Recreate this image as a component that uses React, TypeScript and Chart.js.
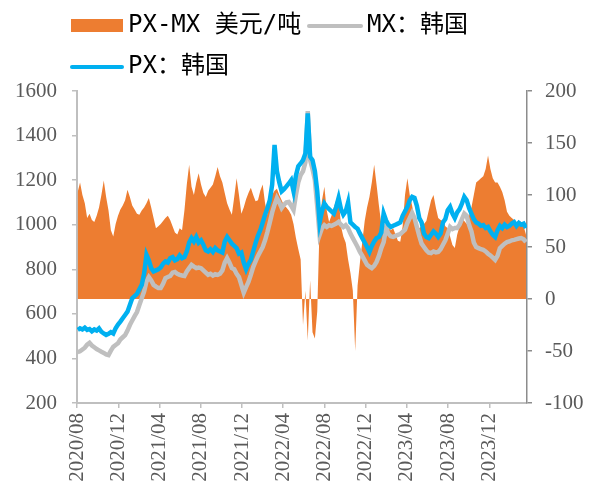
import React, { useEffect, useRef } from 'react';
import { Chart, registerables } from 'chart.js';

Chart.register(...registerables);

// ---- data (weekly observations, first one on START_DATE) ----
const AXIS_START = '2020-08-01';
const START_DATE = '2020-08-03';
const STEP_DAYS = 7;

const xTickLabels = ['2020/08', '2020/12', '2021/04', '2021/08', '2021/12', '2022/04', '2022/08', '2022/12', '2023/04', '2023/08', '2023/12'];
const leftTicks = [200, 400, 600, 800, 1000, 1200, 1400, 1600];
const rightTicks = [-100, -50, 0, 50, 100, 150, 200];

const seriesLabels = ['PX-MX 美元/吨', 'MX：韩国', 'PX：韩国'];

const pxKorea = [
  528, 535, 530, 538, 528, 532, 522, 530, 525, 535,
  520, 512, 505, 510, 518, 512, 535, 552, 565, 580,
  595, 610, 640, 670, 680, 690, 710, 730, 780, 865,
  840, 805, 790, 795, 800, 808, 825, 835, 830, 850,
  855, 840, 845, 862, 850, 855, 880, 920, 940, 925,
  945, 920, 930, 910, 885, 880, 890, 878, 895, 885,
  880, 875, 925, 945, 930, 915, 905, 895, 870, 875,
  830, 800, 825, 842, 880, 918, 950, 976, 1010, 1045,
  1075, 1110, 1180, 1358, 1240, 1190, 1150, 1160, 1172, 1185,
  1200, 1150, 1220, 1262, 1275, 1290, 1320, 1500, 1305, 1290,
  1240, 1150, 1010, 1060, 1095, 1080, 1070, 1060, 1050, 1080,
  1120, 1070, 1045, 1060, 1100, 1010, 1000, 990, 982, 960,
  940, 920, 900, 878, 905, 925, 940, 945, 965, 1050,
  1020, 1000, 990, 995, 1000, 1005, 1010, 1040, 1060, 1080,
  1110, 1125, 1120, 1085, 1030, 1010, 960, 945, 940, 955,
  970, 960, 945, 960, 1010, 1025, 1065, 1080, 1050, 1030,
  1055, 1070, 1095, 1125, 1110, 1075, 1050, 1025, 1010, 1005,
  995, 998, 985, 990, 970, 955, 945, 975, 995, 985,
  1000, 990, 995, 1005, 1012, 995, 1008, 1000, 1005, 985,
];

const mxKorea = [
  429, 432, 440, 448, 462, 470, 458, 450, 442, 436,
  430, 425, 418, 415, 435, 452, 460, 468, 485, 495,
  505, 525, 550, 570, 590, 608, 640, 670, 700, 745,
  765, 750, 730, 722, 716, 716, 735, 760, 765, 770,
  785, 788, 780, 775, 772, 770, 790, 805, 820, 812,
  805, 808, 805, 795, 785, 775, 780, 772, 778, 775,
  780, 795, 830, 850, 830, 805, 800, 780, 765, 730,
  695, 720, 743, 775, 810, 835, 860, 880, 900, 930,
  968, 1010, 1055, 1090, 1120, 1100, 1075, 1090, 1100, 1102,
  1085, 1066, 1133, 1190, 1223, 1240, 1280, 1510, 1290, 1250,
  1200, 1080, 954, 985, 998, 990, 998, 995, 1000, 1005,
  1013, 1000, 990, 998, 985, 960, 940, 920, 900, 878,
  860, 840, 820, 812, 805, 815, 833, 860, 895, 922,
  985, 960, 948, 945, 950, 954, 958, 968, 978, 1008,
  1030, 1053, 1030, 990, 950, 915, 900, 885, 875, 873,
  880, 876, 878, 890, 910, 930, 960, 990, 980, 985,
  985, 1000, 1025, 1050, 1040, 1000, 970, 920, 900, 895,
  890, 887, 880, 870, 862, 852, 842, 860, 895, 905,
  915, 922, 925, 930, 932, 935, 938, 940, 935, 922,
];

const spreadPxMx = [
  103, 112, 100, 92, 78, 82, 76, 74, 80, 88,
  100, 114, 98, 85, 66, 60, 72, 80, 86, 90,
  95, 105, 98, 90, 86, 82, 81, 85, 88, 92,
  97, 88, 78, 68, 70, 72, 75, 78, 80, 76,
  70, 64, 62, 68, 66, 85, 110, 129, 108, 100,
  112, 121, 110, 102, 98, 104, 107, 110, 118, 127,
  118, 112, 102, 92, 86, 81, 98, 116, 100, 82,
  88, 96, 102, 107, 100, 94, 95, 104, 110, 92,
  81, 92, 100, 104, 106, 100, 95, 90, 88, 85,
  81, 72, 59, 48, 38, -25, 8, -40, 18, -32,
  -38, -12, 72, 95, 108, 85, 74, 80, 88, 95,
  100, 70, 60, 54, 38, 25, 8, -50, 13, 35,
  55, 75, 88, 98, 112, 129, 110, 90, 72, 59,
  64, 68, 66, 68, 62, 56, 55, 70, 100, 116,
  100, 90, 76, 72, 68, 70, 72, 75, 85, 95,
  100, 88, 78, 76, 75, 70, 68, 60, 52, 49,
  62, 70, 78, 75, 72, 80, 88, 100, 112, 114,
  116, 118, 125, 138, 125, 116, 112, 112, 108, 103,
  95, 84, 80, 78, 76, 74, 75, 74, 70, 62,
];

// ---- styling ----
const ORANGE = '#ED7D31';
const GRAY = '#BFBFBF';
const BLUE = '#00B0F0';
const TICK_COLOR = '#595959';
const W = 593;
const H = 497;

const DAY = 86400000;
const dayOffset = (iso: string) => (Date.parse(iso + 'T00:00:00Z') - Date.parse(AXIS_START + 'T00:00:00Z')) / DAY;
const firstDay = dayOffset(START_DATE);
const toPoints = (arr: number[]) => arr.map((v, i) => ({ x: firstDay + i * STEP_DAYS, y: v }));
const xTickValues = xTickLabels.map((l) => dayOffset(l.replace('/', '-') + '-01'));
const xMax = dayOffset('2024-03-21');

const legendPlugin = {
  id: 'customLegend',
  afterDraw(chart: any) {
    const ctx = chart.ctx as CanvasRenderingContext2D;
    ctx.save();
    ctx.font = '24px "DejaVu Sans Mono", "Noto Sans CJK SC"';
    ctx.textBaseline = 'middle';
    ctx.textAlign = 'left';
    // row 1: orange box + label
    ctx.fillStyle = ORANGE;
    ctx.fillRect(71, 19, 52, 13);
    ctx.fillStyle = '#000000';
    ctx.fillText(seriesLabels[0], 128, 26);
    // gray line
    ctx.strokeStyle = GRAY;
    ctx.lineWidth = 4;
    ctx.lineCap = 'round';
    ctx.beginPath();
    ctx.moveTo(309, 26);
    ctx.lineTo(361, 26);
    ctx.stroke();
    ctx.fillText(seriesLabels[1], 367, 26);
    // row 2: blue line
    ctx.strokeStyle = BLUE;
    ctx.beginPath();
    ctx.moveTo(72, 67);
    ctx.lineTo(122, 67);
    ctx.stroke();
    ctx.fillText(seriesLabels[2], 128, 67);
    ctx.restore();
  },
};

export default function App() {
  const ref = useRef<HTMLCanvasElement | null>(null);

  useEffect(() => {
    if (!ref.current) return;
    const tickFont = { family: '"Liberation Serif", "Times New Roman", serif', size: 21 };
    const plain = (v: any) => String(v);
    const chart = new Chart(ref.current, {
      type: 'line',
      data: {
        datasets: [
          {
            label: seriesLabels[2],
            data: toPoints(pxKorea),
            yAxisID: 'y',
            borderColor: BLUE,
            borderWidth: 4.5,
            pointRadius: 0,
            tension: 0,
            fill: false,
            order: 1,
          },
          {
            label: seriesLabels[1],
            data: toPoints(mxKorea),
            yAxisID: 'y',
            borderColor: GRAY,
            borderWidth: 4.5,
            pointRadius: 0,
            tension: 0,
            fill: false,
            order: 2,
          },
          {
            label: seriesLabels[0],
            data: toPoints(spreadPxMx),
            yAxisID: 'y1',
            borderColor: ORANGE,
            borderWidth: 0,
            backgroundColor: ORANGE,
            pointRadius: 0,
            tension: 0,
            fill: 'origin',
            order: 3,
          },
        ],
      },
      options: {
        responsive: false,
        animation: false,
        events: [],
        layout: { padding: { top: 91, left: 0, right: 0, bottom: 0 } },
        plugins: {
          legend: { display: false },
          tooltip: { enabled: false },
        },
        scales: {
          x: {
            type: 'linear',
            min: 0,
            max: xMax,
            afterBuildTicks: (scale: any) => {
              scale.ticks = xTickValues.map((v) => ({ value: v }));
            },
            afterFit: (scale: any) => {
              scale.height = 94;
            },
            ticks: {
              autoSkip: false,
              maxRotation: 90,
              minRotation: 90,
              padding: 5,
              color: TICK_COLOR,
              font: tickFont,
              callback: (_v: any, i: number) => xTickLabels[i],
            },
            grid: { display: true, drawOnChartArea: false, drawTicks: true, tickLength: 5, color: GRAY, lineWidth: 1.5 },
            border: { display: true, color: GRAY, width: 2 },
          },
          y: {
            position: 'left',
            min: leftTicks[0],
            max: leftTicks[leftTicks.length - 1],
            afterBuildTicks: (scale: any) => {
              scale.ticks = leftTicks.map((v) => ({ value: v }));
            },
            afterFit: (scale: any) => {
              scale.width = 77;
            },
            ticks: { padding: 15, color: TICK_COLOR, font: tickFont, callback: plain },
            grid: { display: true, drawOnChartArea: false, drawTicks: true, tickLength: 5, color: GRAY, lineWidth: 1.5 },
            border: { display: true, color: GRAY, width: 2 },
          },
          y1: {
            position: 'right',
            min: rightTicks[0],
            max: rightTicks[rightTicks.length - 1],
            afterBuildTicks: (scale: any) => {
              scale.ticks = rightTicks.map((v) => ({ value: v }));
            },
            afterFit: (scale: any) => {
              scale.width = 66;
            },
            ticks: { padding: 13, color: TICK_COLOR, font: tickFont, callback: plain },
            grid: { display: true, drawOnChartArea: false, drawTicks: true, tickLength: 5, color: '#8C8C8C', lineWidth: 1.5 },
            border: { display: true, color: '#8C8C8C', width: 1.5 },
          },
        },
      },
      plugins: [legendPlugin],
    } as any);
    return () => chart.destroy();
  }, []);

  return (
    <div style={{ position: 'absolute', left: 0, top: 0, width: W, height: H, background: '#fff' }}>
      <canvas ref={ref} width={W} height={H} style={{ display: 'block' }} />
    </div>
  );
}
